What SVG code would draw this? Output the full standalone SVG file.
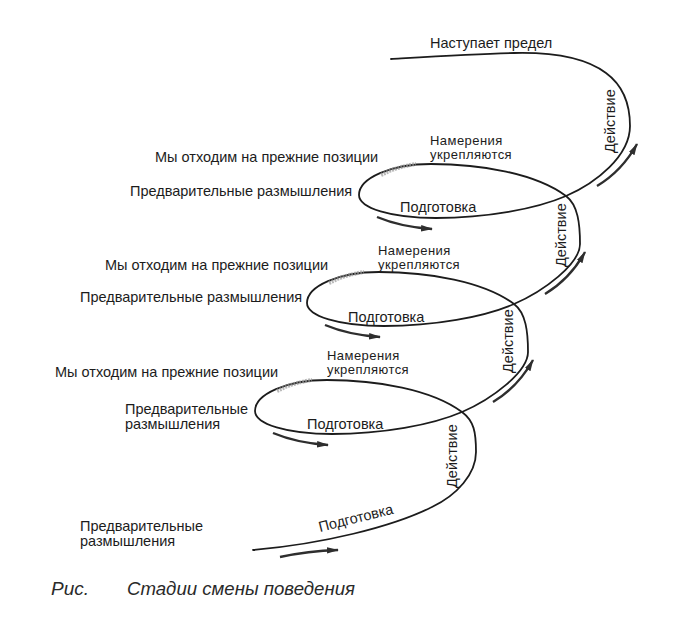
<svg xmlns="http://www.w3.org/2000/svg" width="699" height="622" viewBox="0 0 699 622">
<style>
.lbl{font-family:"Liberation Sans",Arial,sans-serif;font-size:14.5px;fill:#1c1c1c}
.nm{font-size:13px;letter-spacing:0.45px}
.cap{font-family:"Liberation Sans",Arial,sans-serif;font-size:19px;font-style:italic;fill:#2a2a2a}
.curve{fill:none;stroke:#1c1c1c;stroke-width:1.8;stroke-linecap:round}
.arr{fill:none;stroke:#2e2e2e;stroke-width:2.4;marker-end:url(#ah)}
.smudge{fill:none;stroke:#9a9a9a;stroke-width:4;stroke-opacity:0.7;stroke-dasharray:2 1}
</style>
<defs>
<marker id="ah" markerUnits="userSpaceOnUse" markerWidth="14" markerHeight="8" refX="11" refY="4" orient="auto">
<path d="M0,0.8 L12,4 L0,7.2 z" fill="#2e2e2e"/>
</marker>
</defs>
<rect width="699" height="622" fill="#ffffff"/>
<g id="connectors">
<path id="spiral" class="curve" d="M253,550 C322,544 392,527 432,507 C457,495 476,474 476,452 C476,432 474,421 462,412 C432,389.5 377,380 327,380 C287,380 255,394 255,411 C255,424 287,434 332,434 C382,434 432,425 462,412 C492,399 528,372 528,352 C528,332 526,313 514,304 C484,281.5 429,272 379,272 C339,272 307,286 307,303 C307,316 339,326 384,326 C434,326 484,317 514,304 C544,291 580,264 580,244 C580,224 578,205 566,196 C536,173.5 481,164 431,164 C391,164 359,178 359,195 C359,208 391,218 436,218 C486,218 536,209 566,196 C596,183 630,156 630,126 C630,101 621,84 606,73 C586,58 556,52 514,53 C476,54 426,57 391,59"/>
<path class="smudge" d="M277,391 Q292,383 312,380"/>
<path class="smudge" d="M329,283 Q344,275 364,272"/>
<path class="smudge" d="M381,175 Q396,167 416,164"/>
<path class="arr" d="M280,557 Q308,551 338,550"/>
<path class="arr" d="M273,433 Q297,443 328,445"/>
<path class="arr" d="M325,325 Q349,335 380,337"/>
<path class="arr" d="M377,217 Q401,227 432,229"/>
<path class="arr" d="M493,402 Q518,387 533,360"/>
<path class="arr" d="M545,294 Q570,279 585,252"/>
<path class="arr" d="M597,186 Q622,171 637,144"/>
</g>
<g id="stage-top">
<text class="lbl" x="430" y="48">Наступает предел</text>
<text class="lbl" transform="translate(615,153) rotate(-90)">Действие</text>
</g>
<g id="loop-1">
<text class="lbl" x="155" y="162">Мы отходим на прежние позиции</text>
<text class="lbl" x="130" y="196">Предварительные размышления</text>
<text class="lbl nm" x="430" y="144.5">Намерения<tspan x="430" dy="14.6">укрепляются</tspan></text>
<text class="lbl" x="400" y="212">Подготовка</text>
<text class="lbl" transform="translate(566,267) rotate(-90)">Действие</text>
</g>
<g id="loop-2">
<text class="lbl" x="105" y="270">Мы отходим на прежние позиции</text>
<text class="lbl" x="80" y="302">Предварительные размышления</text>
<text class="lbl nm" x="378" y="254.5">Намерения<tspan x="378" dy="14.6">укрепляются</tspan></text>
<text class="lbl" x="348" y="322">Подготовка</text>
<text class="lbl" transform="translate(513,373) rotate(-90)">Действие</text>
</g>
<g id="loop-3">
<text class="lbl" x="55" y="377">Мы отходим на прежние позиции</text>
<text class="lbl" x="125" y="414">Предварительные<tspan x="125" dy="14.5">размышления</tspan></text>
<text class="lbl nm" x="327" y="359.5">Намерения<tspan x="327" dy="14.6">укрепляются</tspan></text>
<text class="lbl" x="307" y="429">Подготовка</text>
<text class="lbl" transform="translate(457,488) rotate(-90)">Действие</text>
</g>
<g id="start">
<text class="lbl" x="80" y="531">Предварительные<tspan x="80" dy="15">размышления</tspan></text>
<text class="lbl" transform="translate(320,532) rotate(-14)">Подготовка</text>
</g>
<g id="caption">
<text class="cap" x="51" y="595">Рис.</text>
<text class="cap" x="127" y="595" textLength="228" lengthAdjust="spacingAndGlyphs">Стадии смены поведения</text>
</g>
</svg>
